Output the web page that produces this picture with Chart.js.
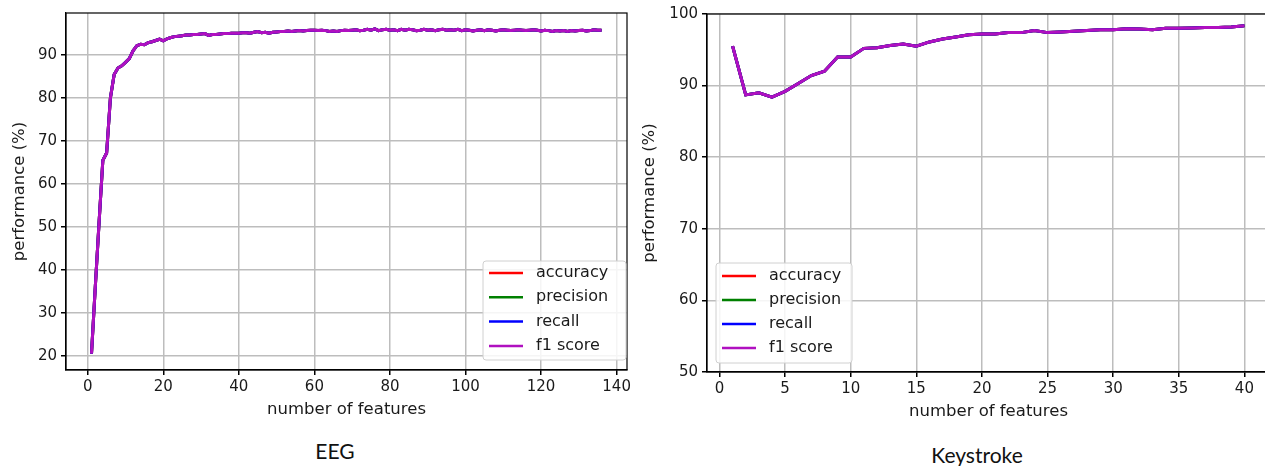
<!DOCTYPE html>
<html>
<head>
<meta charset="utf-8">
<script src="https://cdn.jsdelivr.net/npm/chart.js@4.4.1/dist/chart.umd.min.js"></script>
<style>
  body { margin: 0; width: 1265px; height: 466px; overflow: hidden; background: #fff; position: relative; }
  .box { position: absolute; }
  .cap { position: absolute; font-family: Lato, "Liberation Sans", sans-serif; font-size: 21px; line-height: 21px; color: #111; transform: translateX(-50%); white-space: nowrap; }
</style>
</head>
<body>
<div class="box" style="left:0;top:0;width:640px;height:430px"><canvas id="eeg"></canvas></div>
<div class="box" style="left:640px;top:0;width:635px;height:430px"><canvas id="keys"></canvas></div>
<div class="cap" style="left:335px;top:440px">EEG</div>
<div class="cap" style="left:977px;top:444px">Keystroke</div>
<script>
// the four metrics lie on top of each other in both plots
var metricNames = ['accuracy', 'precision', 'recall', 'f1 score'];
var metricColors = ['#ff0000', '#008000', '#0000ff', '#b010c0'];

// EEG: performance for 1..136 features
var eegScores = [
  20.5, 36, 51, 65.5, 67.2, 80, 85.5, 87, 87.5, 88.3,
  89.2, 91, 92.2, 92.5, 92.4, 92.9, 93.1, 93.4, 93.7, 93.3,
  93.8, 94.1, 94.3, 94.4, 94.5, 94.7, 94.7, 94.8, 94.8, 94.9,
  95.0, 94.6, 94.8, 94.8, 94.9, 95.0, 95.0, 95.1, 95.1, 95.1,
  95.2, 95.2, 95.1, 95.3, 95.5, 95.2, 95.3, 95.1, 95.3, 95.4,
  95.5, 95.5, 95.6, 95.5, 95.6, 95.7, 95.6, 95.7, 95.8, 95.8,
  95.7, 95.8, 95.7, 95.5, 95.6, 95.5, 95.7, 95.8, 95.7, 95.8,
  95.9, 95.7, 95.8, 96.0, 95.8, 96.1, 95.7, 95.9, 96.0, 95.8,
  95.9, 95.7, 96.0, 95.8, 96.0, 95.9, 95.7, 95.8, 96.0, 95.8,
  95.9, 95.7, 95.9, 96.0, 95.8, 95.9, 95.8, 96.0, 95.7, 95.9,
  95.8, 95.6, 95.8, 95.9, 95.7, 95.9, 95.8, 95.6, 95.8, 95.9,
  95.8, 95.7, 95.8, 95.9, 95.8, 95.7, 95.8, 95.9, 95.8, 95.6,
  95.8, 95.7, 95.5, 95.7, 95.6, 95.7, 95.5, 95.7, 95.6, 95.7,
  95.8, 95.6, 95.7, 95.9, 95.8, 95.8
];
var eegXTicks = [0, 20, 40, 60, 80, 100, 120, 140];
var eegYTicks = [20, 30, 40, 50, 60, 70, 80, 90];

// Keystroke: performance for 1..40 features
var keyScores = [
  95.5, 88.7, 89.0, 88.4, 89.2, 90.3, 91.4, 92.0, 94.0, 94.0,
  95.2, 95.3, 95.6, 95.8, 95.5, 96.1, 96.5, 96.8, 97.1, 97.2,
  97.2, 97.4, 97.4, 97.7, 97.4, 97.5, 97.6, 97.7, 97.8, 97.8,
  97.95, 97.9, 97.8, 98.0, 98.0, 98.05, 98.1, 98.1, 98.2, 98.35
];
var keyXTicks = [0, 5, 10, 15, 20, 25, 30, 35, 40];
var keyYTicks = [50, 60, 70, 80, 90, 100];

var FONT = 'DejaVu Sans';

var frameLegend = {
  id: 'frameLegend',
  afterDraw: function (chart, args, opts) {
    var ctx = chart.ctx, a = chart.chartArea;
    ctx.save();
    ctx.strokeStyle = '#000';
    ctx.lineWidth = 1.2;
    ctx.strokeRect(a.left, a.top, a.right - a.left, a.bottom - a.top);
    // legend box
    ctx.beginPath();
    ctx.roundRect(opts.x, opts.y, opts.w, opts.h, 3);
    ctx.fillStyle = 'rgba(255,255,255,0.85)';
    ctx.fill();
    ctx.strokeStyle = '#d0d0d0';
    ctx.lineWidth = 1;
    ctx.stroke();
    ctx.font = '16px "' + FONT + '"';
    ctx.textBaseline = 'middle';
    chart.data.datasets.forEach(function (ds, i) {
      var y = opts.rowY + i * opts.rowGap;
      ctx.strokeStyle = ds.borderColor;
      ctx.lineWidth = 2.5;
      ctx.beginPath();
      ctx.moveTo(opts.x + 6, y);
      ctx.lineTo(opts.x + 40, y);
      ctx.stroke();
      ctx.fillStyle = '#1a1a1a';
      ctx.fillText(ds.label, opts.x + 53, y);
    });
    ctx.restore();
  }
};

function makeChart(id, scores, c) {
  var datasets = metricNames.map(function (name, i) {
    return {
      label: name,
      data: scores.map(function (v, k) { return { x: k + 1, y: v }; }),
      borderColor: metricColors[i],
      borderWidth: 3,
      pointRadius: 0,
      tension: 0,
      order: metricNames.length - i
    };
  });
  var grid = { color: '#bdbdbd', lineWidth: 1.5, tickColor: '#000', tickLength: 5 };
  var border = { display: true, color: '#000', width: 1.2 };
  var tickFont = { family: FONT, size: 15 };
  var titleFont = { family: FONT, size: 16.5 };
  return new Chart(document.getElementById(id), {
    type: 'line',
    data: { datasets: datasets },
    options: {
      responsive: true,
      maintainAspectRatio: false,
      animation: false,
      layout: { padding: c.padding },
      plugins: { legend: { display: false }, tooltip: { enabled: false }, frameLegend: c.legend },
      scales: {
        x: {
          type: 'linear', min: c.xMin, max: c.xMax,
          afterBuildTicks: function (s) { s.ticks = c.xTicks.map(function (v) { return { value: v }; }); },
          afterFit: function (s) { s.height = c.xHeight; },
          grid: grid, border: border,
          ticks: { font: tickFont, color: '#1a1a1a', padding: 3, maxRotation: 0 },
          title: { display: true, text: 'number of features', font: titleFont, color: '#1a1a1a', padding: { top: 0, bottom: c.xTitlePad } }
        },
        y: {
          min: c.yMin, max: c.yMax,
          afterBuildTicks: function (s) { s.ticks = c.yTicks.map(function (v) { return { value: v }; }); },
          afterFit: function (s) { s.width = c.yWidth; },
          grid: grid, border: border,
          ticks: { font: tickFont, color: '#1a1a1a', padding: 4 },
          title: { display: true, text: 'performance (%)', font: titleFont, color: '#1a1a1a', padding: { top: c.yTitlePad, bottom: 0 } }
        }
      }
    },
    plugins: [frameLegend]
  });
}

makeChart('eeg', eegScores, {
  padding: { top: 11, right: 13, left: 0, bottom: 0 },
  xMin: -5.75, xMax: 142.75, xTicks: eegXTicks,
  yMin: 16.7, yMax: 99.8, yTicks: eegYTicks,
  xHeight: 60, yWidth: 66, xTitlePad: 10, yTitlePad: 10,
  legend: { x: 483, y: 261, w: 143, h: 99, rowY: 273, rowGap: 24.3 }
});

makeChart('keys', keyScores, {
  padding: { top: 14, right: 5, left: 0, bottom: 0 },
  xMin: -0.95, xMax: 41.95, xTicks: keyXTicks,
  yMin: 50, yMax: 100, yTicks: keyYTicks,
  xHeight: 58, yWidth: 67, xTitlePad: 8, yTitlePad: 0,
  legend: { x: 76, y: 263, w: 136, h: 100, rowY: 276, rowGap: 24 }
});
</script>
</body>
</html>
